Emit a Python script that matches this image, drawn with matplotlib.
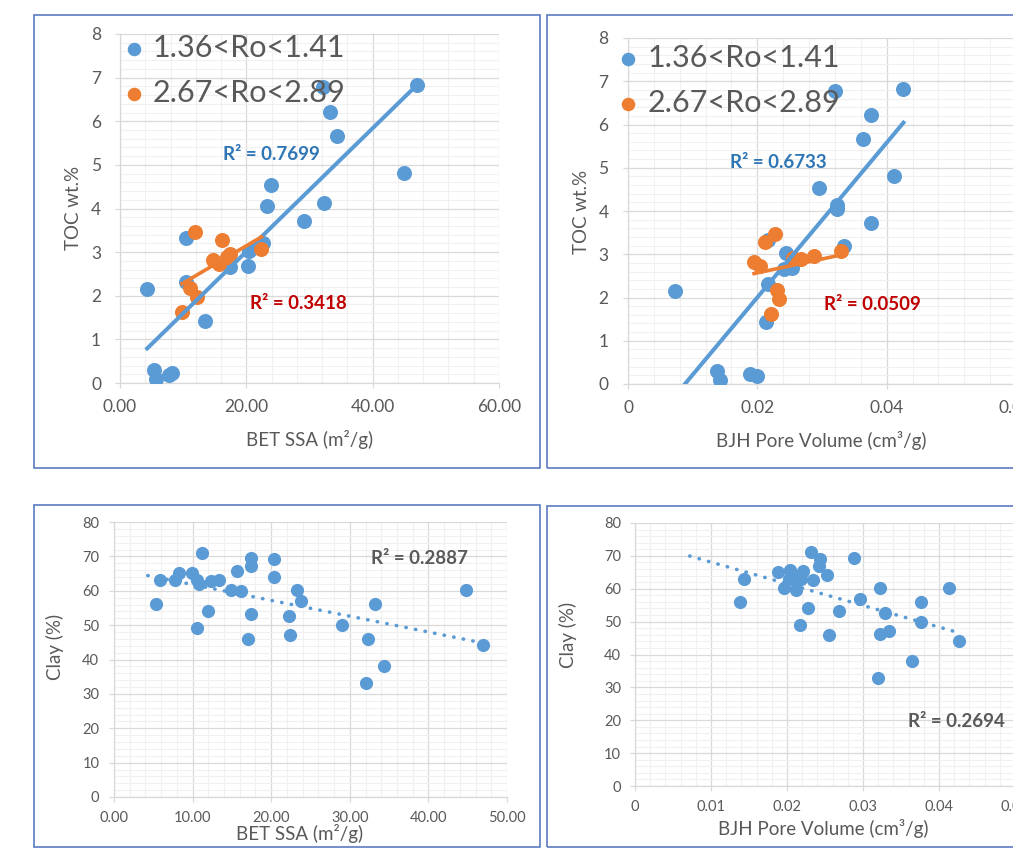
import matplotlib
matplotlib.use("Agg")
import matplotlib.pyplot as plt
import numpy as np
from matplotlib.patches import Rectangle
from matplotlib.ticker import MultipleLocator, AutoMinorLocator, FuncFormatter

plt.rcParams["font.family"] = ["Lato", "DejaVu Sans"]

# samples with 1.36<Ro<1.41
toc_low = [0.09, 0.18, 0.22, 0.29, 1.43, 2.15, 2.32, 2.65, 2.68, 3.02, 3.20,
           3.33, 3.72, 4.05, 4.13, 4.53, 4.81, 5.66, 6.22, 6.78, 6.83]
bet_low = [5.7, 7.8, 8.3, 5.4, 13.4, 4.3, 10.4, 17.4, 20.3, 20.4, 22.6,
           10.5, 29.1, 23.3, 32.3, 23.9, 44.9, 34.4, 33.2, 32.2, 47.0]
bjh_low = [0.0143, 0.0200, 0.0188, 0.0138, 0.0213, 0.0072, 0.0217, 0.0241, 0.0254, 0.0244, 0.0334,
           0.0217, 0.0375, 0.0323, 0.0323, 0.0295, 0.0412, 0.0364, 0.0375, 0.0320, 0.0426]

# samples with 2.67<Ro<2.89
toc_high = [1.63, 2.18, 1.96, 3.47, 2.82, 2.72, 3.28, 2.96, 2.88, 2.91, 3.07]
bet_high = [9.8, 11.1, 12.2, 11.9, 14.8, 15.7, 16.1, 17.4, 17.0, 17.2, 22.4]
bjh_high = [0.0221, 0.0231, 0.0234, 0.0227, 0.0195, 0.0204, 0.0212, 0.0288, 0.0268, 0.0255, 0.0329]

# clay content, all samples
clay_bet_x = [5.4, 5.8, 7.8, 8.3, 9.9, 10.6, 10.8, 10.5, 11.2, 12.0, 12.3, 13.4, 14.9, 15.6, 16.2, 17.1,
              17.4, 17.4, 17.4, 20.4, 20.4, 22.3, 22.4, 23.3, 23.8, 29.0, 32.1, 32.3, 33.2, 34.4, 44.8, 46.9]
clay_bet_y = [56.1, 63.0, 63.0, 65.2, 65.2, 63.0, 62.0, 49.1, 71.1, 54.1, 62.8, 63.0, 60.1, 65.8, 59.8, 46.0,
              53.2, 69.4, 67.1, 64.1, 69.1, 52.6, 47.0, 60.1, 57.0, 50.1, 33.2, 46.1, 56.1, 38.1, 60.1, 44.1]
clay_bjh_x = [0.0138, 0.0143, 0.0188, 0.0196, 0.0204, 0.0202, 0.0212, 0.0215, 0.0217, 0.0221, 0.0218,
              0.0228, 0.0231, 0.0234, 0.0244, 0.0242, 0.0253, 0.0255, 0.0269, 0.0288, 0.0296, 0.0320,
              0.0323, 0.0322, 0.0329, 0.0334, 0.0364, 0.0376, 0.0376, 0.0413, 0.0426]
clay_bjh_y = [56.0, 63.1, 65.1, 60.1, 65.6, 63.0, 59.7, 63.3, 49.1, 65.4, 63.1,
              54.2, 71.1, 62.8, 69.2, 67.0, 64.1, 45.9, 53.2, 69.4, 57.0, 33.0,
              60.1, 46.1, 52.5, 47.1, 38.0, 56.0, 49.9, 60.1, 44.1]

# linear trend lines (slope, intercept) and R2 labels as shown on the chart
fit_bet_low, fit_bet_high = (0.1414, 0.184), (0.0855, 1.435)
fit_bjh_low, fit_bjh_high = (178.8, -1.574), (32.0, 1.93)
fit_bet_clay, fit_bjh_clay = (-0.460, 66.4), (-659.0, 74.7)
r2 = {"bet_low": "0.7699", "bet_high": "0.3418", "bjh_low": "0.6733", "bjh_high": "0.0509",
      "bet_clay": "0.2887", "bjh_clay": "0.2694"}

BLUE, ORANGE = "#5B9BD5", "#ED7D31"
GREY = "#595959"
W, H = 1013, 849

fig = plt.figure(figsize=(W / 100, H / 100), dpi=100)
fig.patch.set_facecolor("white")


def px_axes(left, top, right, bottom):
    return fig.add_axes([left / W, 1 - bottom / H, (right - left) / W, (bottom - top) / H])


def frame(left, top, right, bottom):
    fig.add_artist(Rectangle((left / W, 1 - bottom / H), (right - left) / W, (bottom - top) / H,
                             transform=fig.transFigure, fill=False, edgecolor="#5B7CC0", lw=1.2))


def style(ax, xmax, xstep, ymax, ystep, fmt, tick_size, xpad, ypad):
    ax.set_xlim(0, xmax)
    ax.set_ylim(0, ymax)
    ax.xaxis.set_major_locator(MultipleLocator(xstep))
    ax.yaxis.set_major_locator(MultipleLocator(ystep))
    ax.xaxis.set_minor_locator(AutoMinorLocator(5))
    ax.yaxis.set_minor_locator(AutoMinorLocator(5))
    ax.xaxis.set_major_formatter(FuncFormatter(fmt))
    ax.grid(which="major", color="#D9D9D9", lw=0.9)
    ax.grid(which="minor", color="#F0F0F0", lw=0.8)
    ax.set_axisbelow(True)
    for s in ("top", "right"):
        ax.spines[s].set_visible(False)
    for s in ("left", "bottom"):
        ax.spines[s].set_color("#D9D9D9")
        ax.spines[s].set_linewidth(0.9)
    ax.tick_params(which="major", direction="out", length=3.6, width=0.9, color="#D9D9D9",
                   labelcolor=GREY, labelsize=tick_size)
    ax.tick_params(axis="x", pad=xpad)
    ax.tick_params(axis="y", pad=ypad)
    ax.tick_params(which="minor", length=0)


def labels(ax, xlabel, ylabel, xpos, ypos):
    ax.set_xlabel(xlabel, fontsize=13.5, color=GREY)
    ax.set_ylabel(ylabel, fontsize=13.5, color=GREY)
    ax.xaxis.set_label_coords(*xpos)
    ax.yaxis.set_label_coords(*ypos)
    ax.xaxis.label.set_va("center")
    ax.yaxis.label.set_va("center")


def trend(ax, fit, xs, color, **kw):
    x = np.array([min(xs), max(xs)])
    ax.plot(x, fit[0] * x + fit[1], color=color, zorder=4, **kw)


def legend(ax, anchor):
    ax.legend(loc="upper left", bbox_to_anchor=anchor, frameon=False, fontsize=22,
              labelcolor=GREY, handlelength=0.8, handletextpad=0.22, labelspacing=0.55,
              borderaxespad=0, markerscale=0.9)


def fmt2(v, _):
    return f"{v:.2f}"


def fmtg(v, _):
    return "0" if abs(v) < 1e-12 else f"{v:.2f}".rstrip("0")


# --- TOC vs BET SSA
frame(34, 15, 540, 468)
ax1 = px_axes(120, 34, 499, 383)
style(ax1, 60, 20, 8, 1, fmt2, 12.5, 8, 10)
ax1.scatter(bet_low, toc_low, s=117, color=BLUE, lw=0, zorder=3, label="1.36<Ro<1.41")
ax1.scatter(bet_high, toc_high, s=117, color=ORANGE, lw=0, zorder=3, label="2.67<Ro<2.89")
trend(ax1, fit_bet_low, bet_low, BLUE, lw=2.9)
trend(ax1, fit_bet_high, bet_high, ORANGE, lw=2.6)
ax1.text(24.0, 5.23, f"R² = {r2['bet_low']}", color="#2E75B6", fontsize=13.5, fontweight="bold",
         ha="center", va="center")
ax1.text(28.2, 1.83, f"R² = {r2['bet_high']}", color="#C00000", fontsize=13.5, fontweight="bold",
         ha="center", va="center")
labels(ax1, "BET SSA (m²/g)", "TOC wt.%", (0.501, -0.163), (-0.124, 0.501))
legend(ax1, (-0.028, 1.035))

# --- TOC vs BJH pore volume
frame(547, 15, 1020, 468)
ax2 = px_axes(628, 38, 1016, 384)
style(ax2, 0.06, 0.02, 8, 1, fmtg, 12.5, 8, 10.5)
ax2.scatter(bjh_low, toc_low, s=117, color=BLUE, lw=0, zorder=3, label="1.36<Ro<1.41")
ax2.scatter(bjh_high, toc_high, s=117, color=ORANGE, lw=0, zorder=3, label="2.67<Ro<2.89")
trend(ax2, fit_bjh_low, bjh_low, BLUE, lw=2.9)
trend(ax2, fit_bjh_high, bjh_high, ORANGE, lw=2.6)
ax2.text(0.02317, 5.11, f"R² = {r2['bjh_low']}", color="#2E75B6", fontsize=13.5, fontweight="bold",
         ha="center", va="center")
ax2.text(0.03784, 1.83, f"R² = {r2['bjh_high']}", color="#C00000", fontsize=13.5, fontweight="bold",
         ha="center", va="center")
labels(ax2, "BJH Pore Volume (cm³/g)", "TOC wt.%", (0.499, -0.164), (-0.119, 0.498))
legend(ax2, (-0.062, 1.018))

# --- Clay vs BET SSA
frame(34, 505, 540, 847)
ax3 = px_axes(114, 522, 507, 797)
style(ax3, 50, 10, 80, 10, fmt2, 10.5, 6.5, 7)
ax3.scatter(clay_bet_x, clay_bet_y, s=90, color=BLUE, lw=0, zorder=3)
trend(ax3, fit_bet_clay, bet_low + bet_high, BLUE, lw=2.6, linestyle=(0, (0.1, 2.6)),
      dash_capstyle="round")
ax3.text(38.8, 69.5, f"R² = {r2['bet_clay']}", color=GREY, fontsize=13.5, fontweight="bold",
         ha="center", va="center")
labels(ax3, "BET SSA (m²/g)", "Clay (%)", (0.473, -0.131), (-0.150, 0.545))

# --- Clay vs BJH pore volume
frame(547, 506, 1020, 847)
ax4 = px_axes(635, 523, 1015, 786)
style(ax4, 0.05, 0.01, 80, 10, fmtg, 10.5, 6.5, 6.5)
ax4.scatter(clay_bjh_x, clay_bjh_y, s=90, color=BLUE, lw=0, zorder=3)
trend(ax4, fit_bjh_clay, bjh_low + bjh_high, BLUE, lw=2.6, linestyle=(0, (0.1, 2.6)),
      dash_capstyle="round")
ax4.text(0.04224, 19.5, f"R² = {r2['bjh_clay']}", color=GREY, fontsize=13.5, fontweight="bold",
         ha="center", va="center")
labels(ax4, "BJH Pore Volume (cm³/g)", "Clay (%)", (0.495, -0.160), (-0.176, 0.574))

fig.savefig("out.png", dpi=100, facecolor="white")
